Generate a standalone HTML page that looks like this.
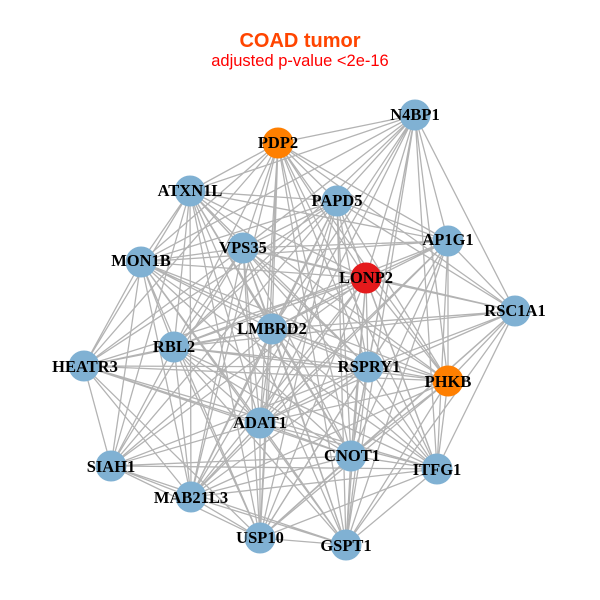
<!DOCTYPE html>
<html><head><meta charset="utf-8"><style>
html,body{margin:0;padding:0;background:#fff}
svg{display:block}
.e path{fill:none;stroke:#b3b3b3;stroke-width:1.3}
.n text{font:bold 16.5px "Liberation Serif",serif;text-anchor:middle;fill:#000}
.t{font-family:"Liberation Sans",sans-serif;text-anchor:middle}
</style></head><body>
<svg width="600" height="600" viewBox="0 0 600 600" xmlns="http://www.w3.org/2000/svg">
<rect width="600" height="600" fill="#fff"/>
<g class="e">
<path d="M415 115L278 143M415 115L190 191M415 115L337 201M415 115L243 248M415 115L448 241M415 115L141 262M415 115L366 278M415 115L515 311M415 115L272 329M415 115L174 347M415 115L368 367M415 115L448 381M415 115L260 423M415 115L351 456M415 115L437 469M415 115L346 545M415 115L191 497"/>
<path d="M278 143L190 191M278 143L337 201M278 143L243 248M278 143L448 241M278 143L141 262M278 143L366 278M278 143L515 311M278 143L272 329M278 143L174 347M278 143L84 366M278 143L368 367M278 143L448 381M278 143L260 423M278 143L351 456M278 143L437 469M278 143L191 497M278 143L260 538M278 143L346 545"/>
<path d="M190 191L337 201M190 191L243 248M190 191L448 241M190 191L141 262M190 191L366 278M190 191L272 329M190 191L174 347M190 191L84 366M190 191L368 367M190 191L448 381M190 191L260 423M190 191L351 456M190 191L111 466M190 191L191 497M190 191L260 538M190 191L346 545"/>
<path d="M337 201L243 248M337 201L448 241M337 201L141 262M337 201L366 278M337 201L515 311M337 201L272 329M337 201L174 347M337 201L84 366M337 201L368 367M337 201L448 381M337 201L260 423M337 201L351 456M337 201L437 469M337 201L111 466M337 201L191 497M337 201L260 538M337 201L346 545"/>
<path d="M243 248L448 241M243 248L141 262M243 248L366 278M243 248L515 311M243 248L272 329M243 248L174 347M243 248L84 366M243 248L368 367M243 248L448 381M243 248L260 423M243 248L351 456M243 248L437 469M243 248L111 466M243 248L191 497M243 248L260 538M243 248L346 545"/>
<path d="M448 241L141 262M448 241L366 278M448 241L515 311M448 241L272 329M448 241L174 347M448 241L368 367M448 241L448 381M448 241L260 423M448 241L351 456M448 241L437 469M448 241L191 497M448 241L260 538M448 241L346 545"/>
<path d="M141 262L366 278M141 262L272 329M141 262L174 347M141 262L84 366M141 262L368 367M141 262L448 381M141 262L260 423M141 262L351 456M141 262L437 469M141 262L111 466M141 262L191 497M141 262L260 538M141 262L346 545"/>
<path d="M366 278L515 311M366 278L272 329M366 278L174 347M366 278L84 366M366 278L368 367M366 278L448 381M366 278L260 423M366 278L351 456M366 278L437 469M366 278L111 466M366 278L191 497M366 278L260 538M366 278L346 545"/>
<path d="M515 311L272 329M515 311L174 347M515 311L368 367M515 311L448 381M515 311L260 423M515 311L351 456M515 311L437 469M515 311L260 538M515 311L346 545"/>
<path d="M272 329L174 347M272 329L84 366M272 329L368 367M272 329L448 381M272 329L260 423M272 329L351 456M272 329L437 469M272 329L111 466M272 329L191 497M272 329L260 538M272 329L346 545"/>
<path d="M174 347L84 366M174 347L368 367M174 347L448 381M174 347L260 423M174 347L351 456M174 347L437 469M174 347L111 466M174 347L191 497M174 347L260 538M174 347L346 545"/>
<path d="M84 366L368 367M84 366L448 381M84 366L260 423M84 366L351 456M84 366L437 469M84 366L111 466M84 366L191 497M84 366L260 538"/>
<path d="M368 367L448 381M368 367L260 423M368 367L351 456M368 367L437 469M368 367L111 466M368 367L191 497M368 367L260 538M368 367L346 545"/>
<path d="M448 381L260 423M448 381L351 456M448 381L437 469M448 381L191 497M448 381L260 538M448 381L346 545"/>
<path d="M260 423L351 456M260 423L437 469M260 423L111 466M260 423L191 497M260 423L260 538M260 423L346 545"/>
<path d="M351 456L437 469M351 456L111 466M351 456L191 497M351 456L260 538M351 456L346 545"/>
<path d="M437 469L111 466M437 469L191 497M437 469L260 538M437 469L346 545"/>
<path d="M111 466L191 497M111 466L260 538M111 466L346 545M191 497L260 538M191 497L346 545M260 538L346 545"/>
</g>
<g class="n">
<g fill="#80b1d3">
<circle cx="415" cy="115" r="15.5"/><circle cx="190" cy="191" r="15.5"/><circle cx="337" cy="201" r="15.5"/><circle cx="243" cy="248" r="15.5"/><circle cx="448" cy="241" r="15.5"/><circle cx="141" cy="262" r="15.5"/><circle cx="515" cy="311" r="15.5"/><circle cx="272" cy="329" r="15.5"/><circle cx="174" cy="347" r="15.5"/><circle cx="84" cy="366" r="15.5"/><circle cx="368" cy="367" r="15.5"/><circle cx="260" cy="423" r="15.5"/><circle cx="351" cy="456" r="15.5"/><circle cx="437" cy="469" r="15.5"/><circle cx="111" cy="466" r="15.5"/><circle cx="191" cy="497" r="15.5"/><circle cx="260" cy="538" r="15.5"/><circle cx="346" cy="545" r="15.5"/>
</g>
<circle cx="278" cy="143" r="15.5" fill="#ff7f00"/><circle cx="448" cy="381" r="15.5" fill="#ff7f00"/><circle cx="366" cy="278" r="15.5" fill="#e41a1c"/>
<text x="415" y="120">N4BP1</text><text x="278" y="148">PDP2</text><text x="190" y="196">ATXN1L</text><text x="337" y="206">PAPD5</text><text x="243" y="253">VPS35</text><text x="448" y="245">AP1G1</text><text x="141" y="266">MON1B</text><text x="366" y="283">LONP2</text><text x="515" y="316">RSC1A1</text><text x="272" y="334">LMBRD2</text><text x="174" y="352">RBL2</text><text x="85" y="372">HEATR3</text><text x="369" y="372">RSPRY1</text><text x="448" y="387">PHKB</text><text x="260" y="428">ADAT1</text><text x="352" y="461">CNOT1</text><text x="437" y="475">ITFG1</text><text x="111" y="472">SIAH1</text><text x="191" y="503">MAB21L3</text><text x="260" y="543">USP10</text><text x="346" y="551">GSPT1</text>
</g>
<text class="t" x="300" y="47" font-size="20" font-weight="bold" fill="#ff4500">COAD tumor</text>
<text class="t" x="300" y="66" font-size="16.5" fill="#ff0000">adjusted p-value &lt;2e-16</text>
</svg>
</body></html>
